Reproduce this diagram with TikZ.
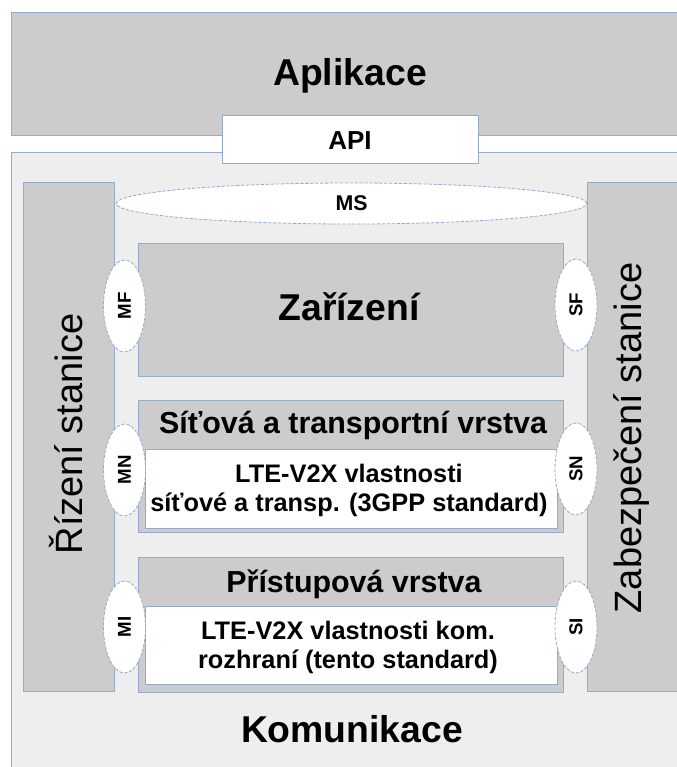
\documentclass[tikz,border=0pt]{standalone}
\usepackage{fontspec}
\setmainfont{Liberation Sans}
\usetikzlibrary{shapes.geometric}
\definecolor{edgeblue}{RGB}{150,170,205}
\definecolor{layergray}{RGB}{204,204,204}
\definecolor{stackgray}{RGB}{238,238,238}
\begin{document}
\begin{tikzpicture}[x=0.75pt,y=-0.75pt,
  layer/.style={draw=edgeblue,fill=layergray,line width=0.75pt},
  plain/.style={draw=edgeblue,fill=white,line width=0.75pt},
  sap/.style={ellipse,draw=edgeblue,fill=white,dash pattern=on 2.5pt off 1.2pt,line width=0.6pt,inner sep=0pt,font=\fontsize{14}{16}\selectfont\bfseries},
  sapv/.style={sap,rotate=90,minimum width=69pt,minimum height=31.5pt},
  big/.style={inner sep=0pt,anchor=base,font=\fontsize{28}{32}\selectfont\bfseries},
  head/.style={inner sep=0pt,anchor=base,font=\fontsize{22.8}{26}\selectfont\bfseries},
  feat/.style={inner sep=0pt,align=center,font=\fontsize{19}{21.75}\selectfont\bfseries},
  side/.style={inner sep=0pt,anchor=base,rotate=90,font=\fontsize{28.5}{32}\selectfont}]
\useasboundingbox (0,0) rectangle (677,767);
\draw[layer] (11.5,12.7) rectangle (700,135);
\draw[draw=edgeblue,fill=stackgray,line width=0.75pt] (11.5,152) rectangle (700,800);
\draw[plain] (222,115) rectangle (478,163);
\draw[layer] (23,182) rectangle (114,691);
\draw[layer] (587,182) rectangle (700,691);
\draw[layer] (138,243) rectangle (563,376);
\draw[layer] (138,400) rectangle (563,532);
\draw[plain] (145,449) rectangle (557,528);
\draw[layer] (138,557) rectangle (563,692);
\draw[plain] (145,606) rectangle (557,684);
% service access points
\node[sap,minimum width=353pt,minimum height=30.75pt,font=\fontsize{16}{18}\selectfont\bfseries] (ms) at (351.5,203.5) {MS};
\node[sapv] (mf) at (124.5,306) {MF};
\node[sapv] (mn) at (124.5,470) {MN};
\node[sapv] (mi) at (124.5,627) {MI};
\node[sapv] (sf) at (576,305) {SF};
\node[sapv] (sn) at (576,469) {SN};
\node[sapv] (si) at (576,627) {SI};
% texts
\node[big] (aplikace) at (350,85) {Aplikace};
\node[inner sep=0pt,anchor=base,font=\fontsize{19.5}{22}\selectfont\bfseries] (api) at (350,149) {API};
\node[big] (zarizeni) at (349,320) {Zařízení};
\node[head] (sitova) at (353,433) {Síťová a transportní vrstva};
\node[feat] (sitfeat) at (349,490) {LTE-V2X vlastnosti\\síťové a transp. (3GPP standard)};
\node[head] (pristup) at (354,592) {Přístupová vrstva};
\node[feat] (pristfeat) at (348,647) {LTE-V2X vlastnosti kom.\\rozhraní (tento standard)};
\node[side] (rizeni) at (82,434) {Řízení stanice};
\node[side] (zabezp) at (641,438) {Zabezpečení stanice};
\node[big] (komunikace) at (352,742) {Komunikace};
\end{tikzpicture}
\end{document}
